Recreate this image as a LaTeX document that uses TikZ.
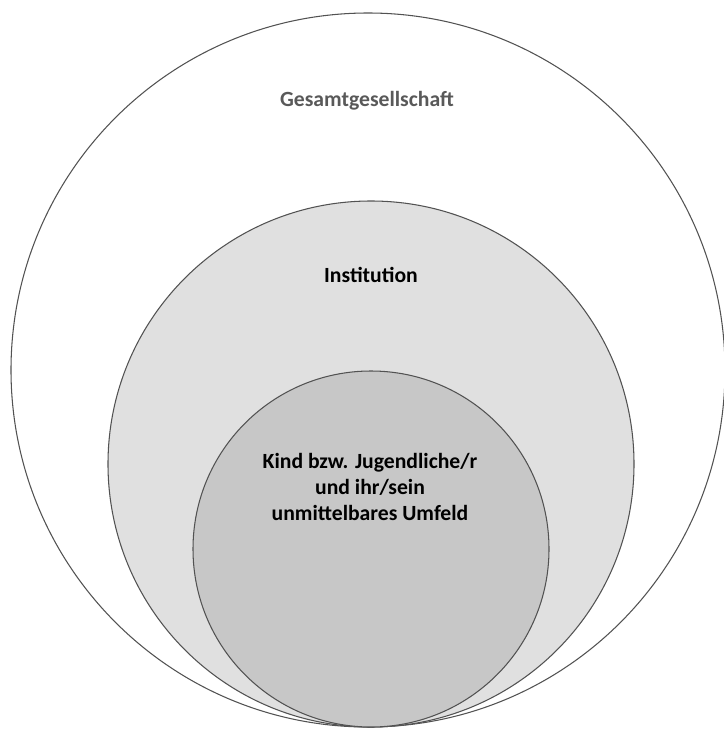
\documentclass[tikz,border=0pt]{standalone}
\usepackage{fontspec}
\setmainfont{Carlito}
\usepackage{tikz}
\usetikzlibrary{positioning}

\begin{document}
\begin{tikzpicture}[x=0.03cm, y=-0.03cm]
	\tikzstyle{every node} = [circle, draw = black!68, line width = 0.9pt, inner sep = 0pt]
	\tikzstyle{label} = [draw = none, rectangle, font = \bfseries\fontsize{18.5}{22}\selectfont, align = center]

\useasboundingbox (0, 0) rectangle (723, 731);

\node[fill = white, minimum size = 714*0.03cm] (1) at (368, 370) {};
\node[fill = black!12, minimum size = 526*0.03cm] (2) at (371, 464) {};
\node[fill = black!22, minimum size = 356*0.03cm] (3) at (371, 549) {};

    \node[label, text = black!65] (t1) at (367, 101) {Gesamtgesellschaft};
    \node[label] (t2) at (371, 275) {Institution};
    \node[label] (t3) at (370, 487) {Kind bzw. Jugendliche/r\\
        und ihr/sein\\ unmittelbares Umfeld};
	\end{tikzpicture}
\end{document}
